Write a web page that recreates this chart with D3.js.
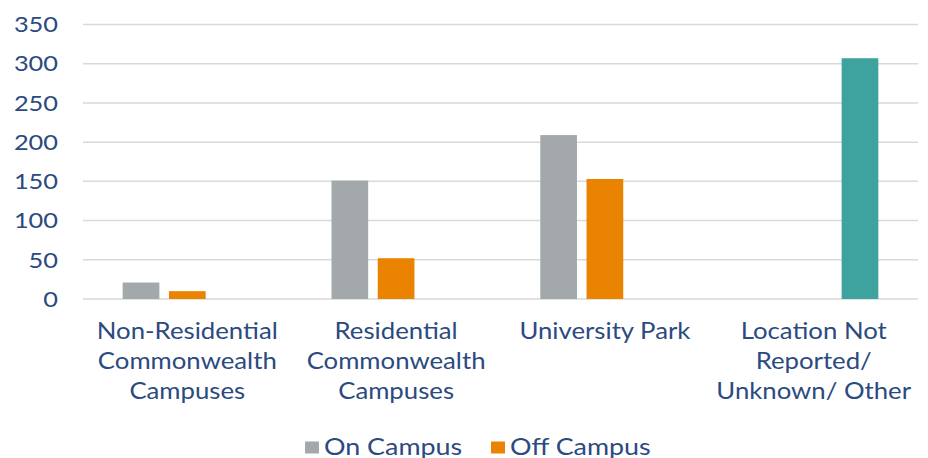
<!DOCTYPE html>
<html>
<head>
<meta charset="utf-8">
<script src="https://cdn.jsdelivr.net/npm/d3@7"></script>
<style>
  body { margin: 0; background: #fff; }
  text { font-family: Lato, "Open Sans", sans-serif; fill: #2b4a80; }
</style>
</head>
<body>
<div id="chart"></div>
<script>
// data
let categories = ["Non-Residential Commonwealth Campuses", "Residential Commonwealth Campuses", "University Park", "Location Not Reported/ Unknown/ Other"];
let categoryLines = [
  ["Non-Residential", "Commonwealth", "Campuses"],
  ["Residential", "Commonwealth", "Campuses"],
  ["University Park"],
  ["Location Not", "Reported/", "Unknown/ Other"]
];
let seriesNames = ["On Campus", "Off Campus", "Not Reported"];
let onCampus = [21, 151, 209, 0];
let offCampus = [10, 52, 153, 0];
let notReported = [0, 0, 0, 307];
let yTicks = [0, 50, 100, 150, 200, 250, 300, 350];
let legendNames = ["On Campus", "Off Campus"];

let colors = ["#a3a9ab", "#e98300", "#3ea39e"];

let width = 928;
let height = 458;
let plotLeft = 83, plotRight = 918, plotTop = 24.5, plotBottom = 299;

let svg = d3.select("#chart")
  .append("svg")
  .attr("width", width)
  .attr("height", height);

// build rows for grouped bars
let rows = [];
categories.forEach(function(c, i) {
  rows.push({ cat: c, series: seriesNames[0], value: onCampus[i] });
  rows.push({ cat: c, series: seriesNames[1], value: offCampus[i] });
  rows.push({ cat: c, series: seriesNames[2], value: notReported[i] });
});

let xScale = d3.scaleBand()
  .domain(categories)
  .range([plotLeft, plotRight])
  .paddingInner(0.381)
  .paddingOuter(0.19);

let xInner = d3.scaleBand()
  .domain(seriesNames)
  .range([0, xScale.bandwidth()])
  .paddingInner(0.207);

let yScale = d3.scaleLinear()
  .domain([0, 350])
  .range([plotBottom, plotTop]);

let color = d3.scaleOrdinal().domain(seriesNames).range(colors);

// gridlines
svg.append("g")
  .selectAll("line")
  .data(yTicks)
  .enter()
  .append("line")
  .attr("x1", plotLeft)
  .attr("x2", plotRight)
  .attr("y1", function(d) { return yScale(d); })
  .attr("y2", function(d) { return yScale(d); })
  .attr("stroke", "#d9d9d9")
  .attr("stroke-width", 1.5);

// y tick labels (original font is wider than Lato, so stretch a bit)
svg.append("g")
  .selectAll("text")
  .data(yTicks)
  .enter()
  .append("text")
  .attr("transform", function(d) { return "translate(58," + yScale(d) + ") scale(1.18,1)"; })
  .attr("dy", "0.36em")
  .attr("text-anchor", "end")
  .style("font-size", "21.5px")
  .text(function(d) { return d; });

// bars
svg.append("g")
  .selectAll("rect")
  .data(rows.filter(function(d) { return d.value > 0; }))
  .enter()
  .append("rect")
  .attr("x", function(d) { return xScale(d.cat) + xInner(d.series); })
  .attr("y", function(d) { return yScale(d.value); })
  .attr("width", xInner.bandwidth())
  .attr("height", function(d) { return yScale(0) - yScale(d.value); })
  .attr("fill", function(d) { return color(d.series); });

// category labels
let catLabels = svg.append("g")
  .selectAll("g")
  .data(categories)
  .enter()
  .append("g")
  .attr("transform", function(d) {
    return "translate(" + (xScale(d) + xScale.bandwidth() / 2) + ",0) scale(1.12,1)";
  });

catLabels.selectAll("text")
  .data(function(d, i) { return categoryLines[i]; })
  .enter()
  .append("text")
  .attr("x", 0)
  .attr("y", function(d, i) { return 339.5 + i * 30; })
  .attr("text-anchor", "middle")
  .style("font-size", "23px")
  .text(function(d) { return d; });

// legend
let legendX = [305, 491];
let legend = svg.append("g");

legend.selectAll("rect")
  .data(legendNames)
  .enter()
  .append("rect")
  .attr("x", function(d, i) { return legendX[i]; })
  .attr("y", 441.5)
  .attr("width", 14)
  .attr("height", 12)
  .attr("fill", function(d) { return color(d); });

legend.selectAll("text")
  .data(legendNames)
  .enter()
  .append("text")
  .attr("transform", function(d, i) { return "translate(" + (legendX[i] + 19) + ",455) scale(1.12,1)"; })
  .style("font-size", "24px")
  .text(function(d) { return d; });
</script>
</body>
</html>
